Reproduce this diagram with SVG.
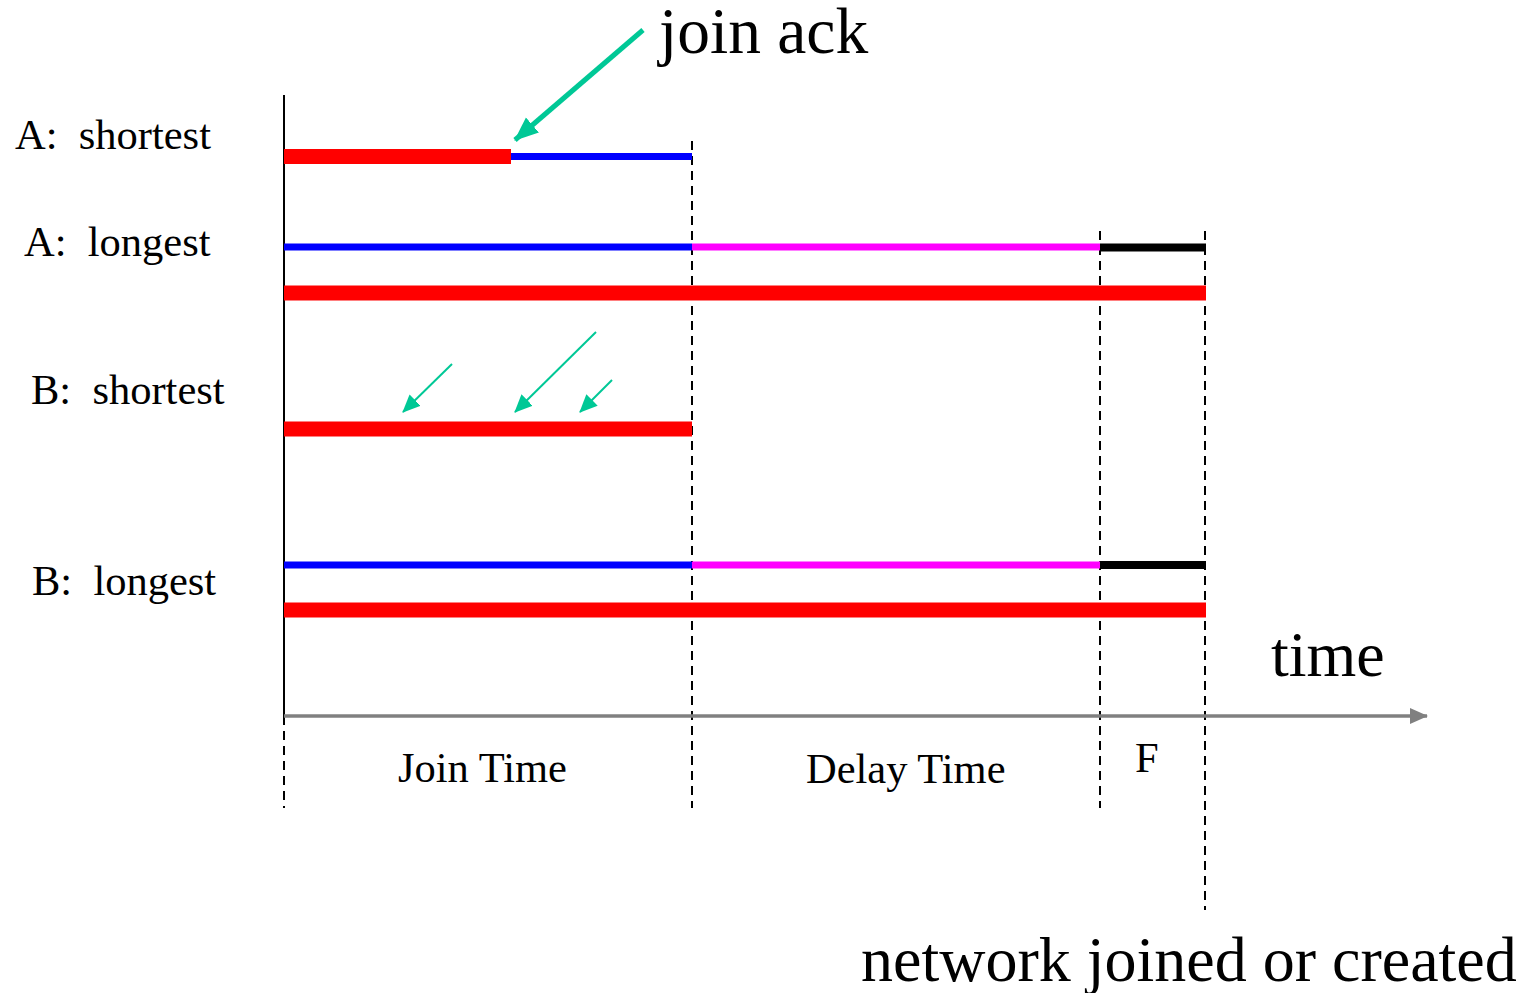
<svg xmlns="http://www.w3.org/2000/svg" width="1533" height="993" viewBox="0 0 1533 993">
  <defs>
    <marker id="head-green" markerUnits="userSpaceOnUse" markerWidth="18" markerHeight="18" refX="17" refY="9" orient="auto">
      <path d="M0,1 L18,9 L0,17 Z" fill="#00c896"/>
    </marker>
    <marker id="head-green-big" markerUnits="userSpaceOnUse" markerWidth="24" markerHeight="24" refX="23" refY="12" orient="auto">
      <path d="M0,2 L24,12 L0,22 Z" fill="#00c896"/>
    </marker>
    <marker id="head-gray" markerUnits="userSpaceOnUse" markerWidth="18" markerHeight="16" refX="17" refY="8" orient="auto">
      <path d="M0,0 L18,8 L0,16 Z" fill="#808080"/>
    </marker>
  </defs>
  <style>
    text { font-family: "Liberation Serif", "Times New Roman", serif; fill: #000; }
    .label { font-size: 42.5px; }
    .big { font-size: 64px; }
    .dash { stroke: #000; stroke-width: 2; stroke-dasharray: 9 6; fill: none; }
    .red { stroke: #ff0000; stroke-width: 15; }
    .blue { stroke: #0000ff; stroke-width: 7; }
    .magenta { stroke: #ff00ff; stroke-width: 7; }
    .black { stroke: #000; stroke-width: 8; }
    .ack { stroke: #00c896; fill: none; }
  </style>

  <!-- row labels -->
  <g id="label-a-shortest"><text class="label" x="15" y="149" xml:space="preserve">A:  shortest</text></g>
  <g id="label-a-longest"><text class="label" x="24" y="256" xml:space="preserve">A:  longest</text></g>
  <g id="label-b-shortest"><text class="label" x="31" y="404" xml:space="preserve">B:  shortest</text></g>
  <g id="label-b-longest"><text class="label" x="32" y="595" xml:space="preserve">B:  longest</text></g>

  <!-- phase boundaries -->
  <g id="boundaries">
    <line x1="284" y1="95" x2="284" y2="716" stroke="#000" stroke-width="2"/>
    <line class="dash" x1="284" y1="716" x2="284" y2="808"/>
    <line class="dash" x1="692" y1="141" x2="692" y2="808"/>
    <line class="dash" x1="1100" y1="231" x2="1100" y2="808"/>
    <line class="dash" x1="1205" y1="231" x2="1205" y2="910"/>
  </g>

  <!-- A: shortest -->
  <g id="bars-a-shortest">
    <line class="red" x1="284" y1="156.5" x2="511" y2="156.5"/>
    <line class="blue" x1="511" y1="156.5" x2="692" y2="156.5"/>
  </g>

  <!-- A: longest -->
  <g id="bars-a-longest">
    <line class="blue" x1="284" y1="247" x2="692" y2="247"/>
    <line class="magenta" x1="692" y1="247" x2="1100" y2="247"/>
    <line class="black" x1="1100" y1="247.5" x2="1206" y2="247.5"/>
    <line class="red" x1="284" y1="293" x2="1206" y2="293"/>
  </g>

  <!-- B: shortest -->
  <g id="bars-b-shortest">
    <line class="red" x1="284" y1="429" x2="692" y2="429"/>
  </g>

  <!-- B: longest -->
  <g id="bars-b-longest">
    <line class="blue" x1="284" y1="565" x2="692" y2="565"/>
    <line class="magenta" x1="692" y1="565" x2="1100" y2="565"/>
    <line class="black" x1="1100" y1="565" x2="1206" y2="565"/>
    <line class="red" x1="284" y1="610" x2="1206" y2="610"/>
  </g>

  <!-- arrows -->
  <g id="connectors">
    <line class="ack" x1="643" y1="30" x2="515" y2="140" stroke-width="5" marker-end="url(#head-green-big)"/>
    <line class="ack" x1="452" y1="364" x2="403" y2="412" stroke-width="2" marker-end="url(#head-green)"/>
    <line class="ack" x1="596" y1="332" x2="515" y2="412" stroke-width="2" marker-end="url(#head-green)"/>
    <line class="ack" x1="612" y1="380" x2="580" y2="412" stroke-width="2" marker-end="url(#head-green)"/>
    <line x1="284" y1="716" x2="1427" y2="716" stroke="#808080" stroke-width="3.5" marker-end="url(#head-gray)"/>
  </g>

  <!-- annotations -->
  <g id="label-join-ack"><text class="big" x="659" y="53" style="font-size:65.5px">join ack</text></g>
  <g id="label-time"><text class="big" x="1271" y="676">time</text></g>
  <g id="label-join-time"><text class="label" x="398" y="782">Join Time</text></g>
  <g id="label-delay-time"><text class="label" x="806" y="783">Delay Time</text></g>
  <g id="label-f"><text class="label" x="1135" y="772">F</text></g>
  <g id="label-network"><text class="big" x="861" y="981">network joined or created</text></g>
</svg>
